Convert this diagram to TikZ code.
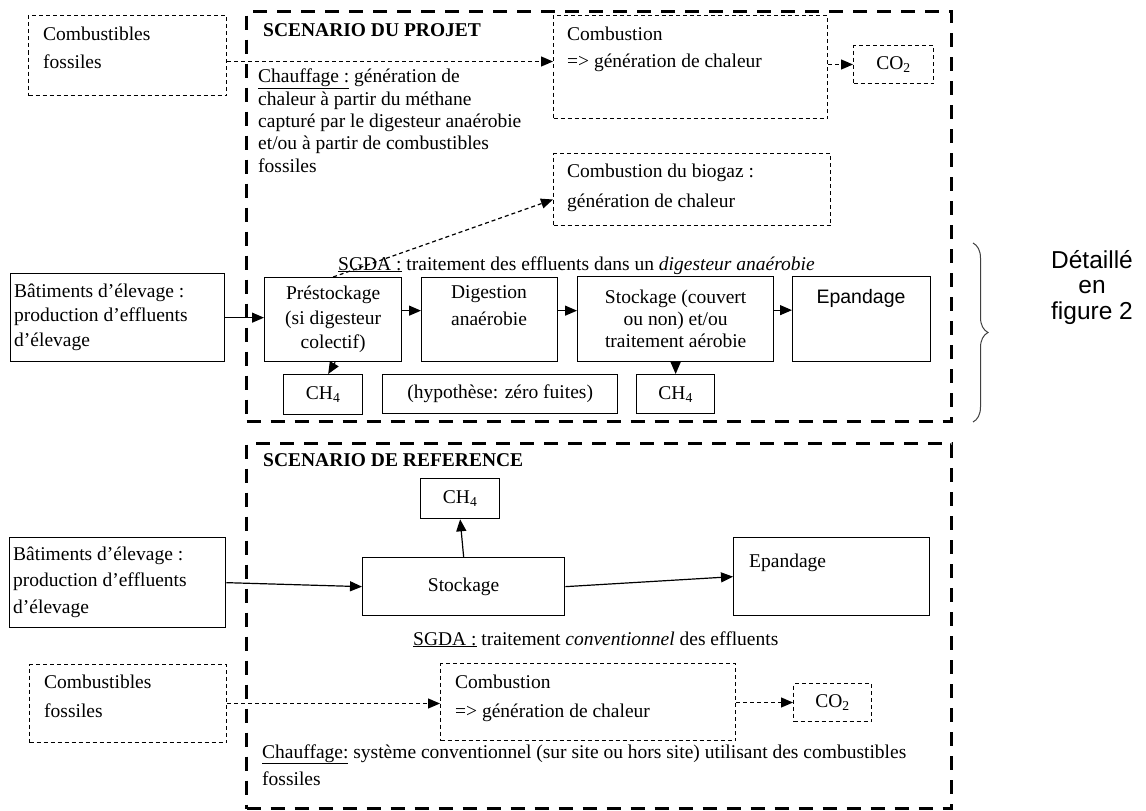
\documentclass[tikz,border=0pt]{standalone}
\usepackage{fontspec}
\setmainfont{Liberation Serif}
\newfontfamily\arialf{Liberation Sans}
\usetikzlibrary{arrows.meta,decorations.pathreplacing}
\newcommand\myfs[1]{\fontsize{19.5}{#1}\selectfont}
\begin{document}
\begin{tikzpicture}[x=1pt,y=-1pt,
  box/.style={draw, line width=1.3pt, inner sep=0pt, anchor=north west, align=center, font=\myfs{22}},
  dbox/.style={draw, line width=1pt, dash pattern=on 4pt off 3pt, inner sep=0pt, anchor=north west, align=center, font=\myfs{22}},
  frame/.style={draw, line width=3pt, dash pattern=on 14pt off 10pt, inner sep=0pt, anchor=north west},
  txt/.style={inner sep=0pt, anchor=base west, align=left},
  ctxt/.style={inner sep=0pt, anchor=base, align=center},
  arr/.style={line width=1.2pt, -{Triangle[length=12pt,width=10pt]}},
  darr/.style={arr, dash pattern=on 4pt off 3pt},
  bracestyle/.style={draw, line width=1pt, black!75, decorate, decoration={brace, amplitude=15pt}}
]
\useasboundingbox (0,0) rectangle (1146,811);

% frames
\node[frame, minimum width=705, minimum height=410] (projet) at (245,10) {};
\node[frame, minimum width=705, minimum height=365] (reference) at (245,442) {};

% ---------- Projet ----------
\node[dbox, minimum width=198, minimum height=80] (fosA) at (28,15) {};
\node[txt, font=\myfs{28}] (fosAt) at (43,68) {Combustibles\\fossiles};

\node[txt, font=\myfs{22}\bfseries] (titA) at (263,36.5) {SCENARIO DU PROJET};

\node[dbox, minimum width=274, minimum height=103] (combA) at (553,15) {};
\node[txt, font=\myfs{27}] (combAt) at (567,67) {Combustion\\=> génération de chaleur};

\node[dbox, minimum width=80, minimum height=38] (co2A) at (853,45) {CO\textsubscript{2}};

\node[txt, font=\myfs{22.3}] (chA) at (258,172) {\underline{Chauffage :} génération de\\chaleur à partir du méthane\\capturé par le digesteur anaérobie\\et/ou à partir de combustibles\\fossiles};

\node[dbox, minimum width=277, minimum height=72] (bioA) at (553,153) {};
\node[txt, font=\myfs{30}] (bioAt) at (567,207) {Combustion du biogaz :\\génération de chaleur};

\node[txt, font=\myfs{22}] (sgdaA) at (338,270) {\underline{SGDA :} traitement des effluents dans un \textit{digesteur anaérobie}};

\node[box, minimum width=214, minimum height=88] (batA) at (10,273) {};
\node[txt, font=\myfs{24.5}] (batAt) at (14,346) {Bâtiments d’élevage :\\production d’effluents\\d’élevage};

\node[box, minimum width=137, minimum height=84, font=\myfs{24.5}] (preA) at (264,277) {Préstockage\\(si digesteur\\colectif)};

\node[box, minimum width=136, minimum height=84] (digA) at (421,277) {};
\node[ctxt, font=\myfs{27}] (digAt) at (489,325) {Digestion\\anaérobie};

\node[box, minimum width=196, minimum height=85, font=\myfs{22}] (stoA) at (577,276) {Stockage (couvert\\ou non) et/ou\\traitement aérobie};

\node[box, minimum width=138, minimum height=85] (epaA) at (792,276) {};
\node[ctxt, font=\arialf\fontsize{19.5}{22}\selectfont] (epaAt) at (861,303) {Epandage};

\node[box, minimum width=79, minimum height=40] (ch4a) at (283,374) {CH\textsubscript{4}};
\node[box, minimum width=235, minimum height=39] (zf) at (382,374) {(hypothèse: zéro fuites)};
\node[box, minimum width=78, minimum height=39] (ch4b) at (636,374) {CH\textsubscript{4}};

\draw[darr] ([yshift=-6pt]fosA.east) -- ([yshift=-6pt]fosA.east -| combA.west);
\draw[darr] (combA.east |- co2A.west) -- (co2A.west);
\draw[darr] (preA.north) -- ([yshift=-10pt]bioA.west);
\draw[arr] (batA.east) -- (batA.east -| preA.west);
\draw[arr] ([yshift=9pt]preA.east) -- ([yshift=9pt]preA.east -| digA.west);
\draw[arr] ([yshift=9pt]digA.east) -- ([yshift=9pt]digA.east -| stoA.west);
\draw[arr] ([yshift=9pt]stoA.east) -- ([yshift=9pt]stoA.east -| epaA.west);
\draw[arr] ([xshift=2pt]preA.south) -- ([xshift=5pt]ch4a.north);
\draw[arr] (stoA.south) -- (ch4b.north);

% brace
\coordinate (brT) at (973,243);
\coordinate (brB) at (973,422);
\draw[bracestyle] (brT) -- (brB);
\node[ctxt, font=\arialf\fontsize{24.5}{25.5}\selectfont] (det) at (1092,319) {Détaillé\\en\\figure 2};

% ---------- Reference ----------
\node[txt, font=\myfs{22}\bfseries] (titB) at (263,466) {SCENARIO DE REFERENCE};

\node[box, minimum width=79, minimum height=40] (ch4c) at (420,478) {CH\textsubscript{4}};
\node[box, minimum width=202, minimum height=58] (stoB) at (362,557) {Stockage};
\node[box, minimum width=196, minimum height=78] (epaB) at (733,537) {};
\node[txt, font=\myfs{22}] (epaBt) at (749,567) {Epandage};

\node[box, minimum width=216, minimum height=90] (batB) at (9,537) {};
\node[txt, font=\myfs{26.5}] (batBt) at (13,613) {Bâtiments d’élevage :\\production d’effluents\\d’élevage};

\draw[arr] (batB.east) -- (stoB.west);
\draw[arr] (stoB.east) -- (epaB.west);
\draw[arr] (stoB.north) -- (ch4c.south);

\node[txt, font=\myfs{22}] (sgdaB) at (413,645) {\underline{SGDA :} traitement \textit{conventionnel} des effluents};

\node[dbox, minimum width=197, minimum height=78] (fosB) at (29,664) {};
\node[txt, font=\myfs{29}] (fosBt) at (44,717) {Combustibles\\fossiles};

\node[dbox, minimum width=295, minimum height=77] (combB) at (440,663) {};
\node[txt, font=\myfs{29}] (combBt) at (455,717) {Combustion\\=> génération de chaleur};

\node[dbox, minimum width=78, minimum height=38] (co2B) at (793,683) {CO\textsubscript{2}};

\draw[darr] (fosB.east) -- (fosB.east -| combB.west);
\draw[darr] (combB.east |- co2B.west) -- (co2B.west);

\node[txt, font=\myfs{27}] (chB) at (262,785) {\underline{Chauffage:} système conventionnel (sur site ou hors site) utilisant des combustibles\\fossiles};
\end{tikzpicture}
\end{document}
